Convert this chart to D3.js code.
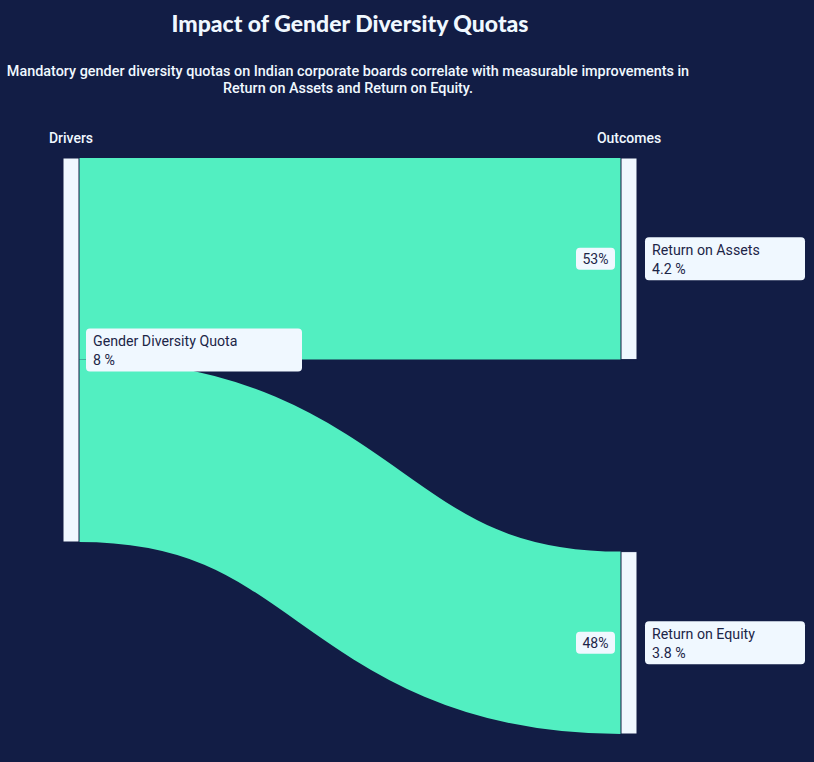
<!DOCTYPE html>
<html>
<head>
<meta charset="utf-8">
<script src="https://cdn.jsdelivr.net/npm/d3@7"></script>
<style>
  html, body { margin: 0; padding: 0; background: #121d45; }
  svg { display: block; }
</style>
</head>
<body>
<div id="chart"></div>
<script>
// data
const drivers = ["Gender Diversity Quota"];
const driverValues = [8];
const outcomes = ["Return on Assets", "Return on Equity"];
const outcomeValues = [4.2, 3.8];
const columnTitles = ["Drivers", "Outcomes"];

const W = 814, H = 762;
const bg = "#121d45", green = "#52efc1", light = "#f0f8ff", ink = "#1c2547";

const svg = d3.select("#chart").append("svg")
    .attr("width", W).attr("height", H)
    .style("font-family", "Roboto, sans-serif");

svg.append("rect").attr("width", W).attr("height", H).attr("fill", bg);

// layout
const x0 = 63, x1 = 621, nodeW = 16;
const yTop = 158, yBottom = 734;
const total = d3.sum(driverValues);
const ky = d3.scaleLinear().domain([0, total]).range([0, 384]);

const cx = (x0 + x1 + nodeW) / 2;

svg.append("text")
    .attr("x", cx).attr("y", 32)
    .attr("text-anchor", "middle")
    .attr("fill", light)
    .style("font-family", "Lato, sans-serif")
    .style("font-weight", 900)
    .style("font-size", "23px")
    .text("Impact of Gender Diversity Quotas");

const sub = svg.append("text")
    .attr("text-anchor", "middle")
    .attr("fill", light)
    .style("font-size", "14.4px")
    .style("font-weight", 500);
sub.append("tspan").attr("x", cx - 2).attr("y", 76)
    .text("Mandatory gender diversity quotas on Indian corporate boards correlate with measurable improvements in");
sub.append("tspan").attr("x", cx - 2).attr("y", 93)
    .text("Return on Assets and Return on Equity.");

[x0, x1].forEach((x, i) => {
  svg.append("text")
      .attr("x", x + nodeW / 2).attr("y", 143)
      .attr("text-anchor", "middle")
      .attr("fill", light)
      .style("font-size", "14px")
      .style("font-weight", 500)
      .text(columnTitles[i]);
});

// nodes
const left = drivers.map((name, i) => ({ name, value: driverValues[i], x: x0, y0: yTop, y1: yTop + ky(driverValues[i]) }));
const gap = (yBottom - yTop - ky(d3.sum(outcomeValues))) / (outcomes.length - 1);
let yy = yTop;
const right = outcomes.map((name, i) => {
  const n = { name, value: outcomeValues[i], x: x1, y0: yy, y1: yy + ky(outcomeValues[i]) };
  yy = n.y1 + gap;
  return n;
});

// links
let sy = left[0].y0;
const links = right.map(t => {
  const w = ky(t.value);
  const l = { source: left[0], target: t, width: w, ys: sy + w / 2, yt: (t.y0 + t.y1) / 2 };
  sy += w;
  return l;
});

const linkPath = d3.linkHorizontal().x(d => d[0]).y(d => d[1]);

svg.append("g").attr("fill", "none")
  .selectAll("path").data(links).join("path")
    .attr("d", d => linkPath({ source: [x0 + nodeW, d.ys], target: [x1, d.yt] }))
    .attr("stroke", green)
    .attr("stroke-width", d => d.width);

const nodes = left.concat(right);
svg.append("g").selectAll("rect").data(nodes).join("rect")
    .attr("x", d => d.x).attr("y", d => d.y0)
    .attr("width", nodeW).attr("height", d => d.y1 - d.y0)
    .attr("fill", light)
    .attr("stroke", bg).attr("stroke-width", 1);

// node labels
function label(n, bx, bw) {
  const my = (n.y0 + n.y1) / 2;
  const g = svg.append("g");
  g.append("rect")
      .attr("x", bx).attr("y", my - 21.5)
      .attr("width", bw).attr("height", 43)
      .attr("rx", 4).attr("fill", light);
  const t = g.append("text").attr("fill", ink).style("font-size", "14.2px");
  t.append("tspan").attr("x", bx + 7).attr("y", my - 4).text(n.name);
  t.append("tspan").attr("x", bx + 7).attr("y", my + 15).text(n.value + " %");
}
left.forEach(n => label(n, n.x + nodeW + 7, 216));
right.forEach(n => label(n, n.x + nodeW + 8, 160));

// percent labels
links.forEach(l => {
  const pct = d3.format(".0f")(Math.round(l.target.value / l.source.value * 100));
  const g = svg.append("g");
  g.append("rect")
      .attr("x", x1 - 45).attr("y", l.yt - 11)
      .attr("width", 39).attr("height", 22)
      .attr("rx", 4).attr("fill", light);
  g.append("text")
      .attr("x", x1 - 25.5).attr("y", l.yt + 5)
      .attr("text-anchor", "middle")
      .attr("fill", ink).style("font-size", "14px")
      .text(pct + "%");
});
</script>
</body>
</html>
